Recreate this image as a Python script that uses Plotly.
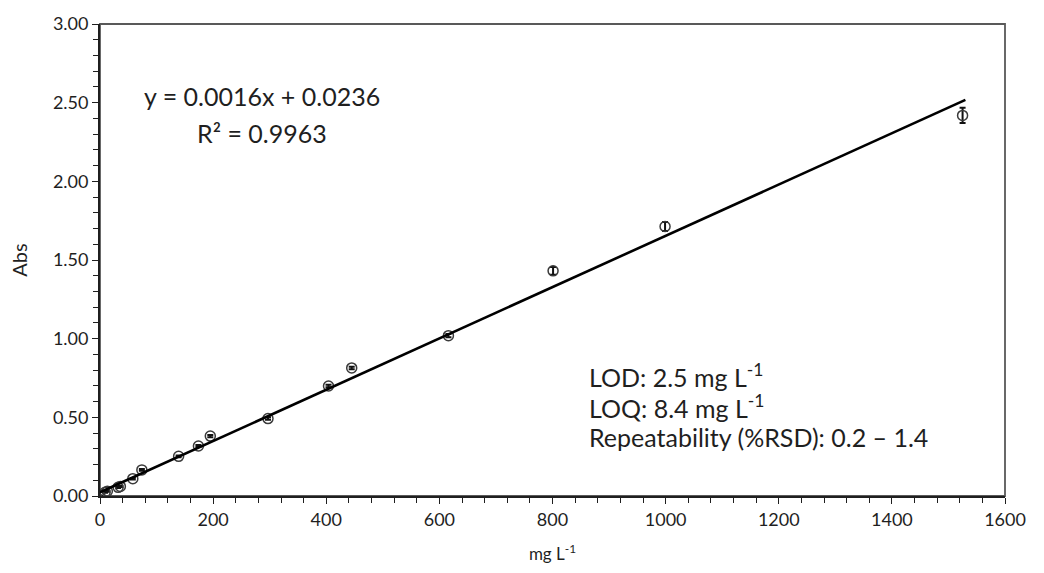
import plotly.graph_objects as go

# Calibration standards (mg L-1) and mean absorbance with standard deviation
conc = [0, 9, 13, 32, 36, 58, 74, 139, 174, 195, 297, 404, 445, 616, 801, 999, 1525]
absorb = [0.000, 0.024, 0.030, 0.055, 0.061, 0.110, 0.166, 0.252, 0.318, 0.381,
          0.492, 0.699, 0.814, 1.019, 1.431, 1.713, 2.419]
abs_sd = [0.003, 0.003, 0.003, 0.004, 0.004, 0.005, 0.005, 0.006, 0.006, 0.007,
          0.008, 0.008, 0.008, 0.010, 0.025, 0.028, 0.048]

# Linear trendline
SLOPE = 0.00163
INTERCEPT = 0.0236
R2 = 0.9963
fit_x = [0, 1530]
fit_y = [SLOPE * v + INTERCEPT for v in fit_x]

FONT = "Lato, 'Open Sans', sans-serif"
TXT = "#1f1f1f"

fig = go.Figure()

fig.add_trace(go.Scatter(
    x=conc, y=absorb, mode="markers",
    marker=dict(symbol="circle-open", size=10, color="#3a3a3a", line=dict(width=1.5)),
    error_y=dict(type="data", array=abs_sd, visible=True, color="#111111",
                 thickness=2, width=3),
    showlegend=False,
))

fig.add_trace(go.Scatter(
    x=fit_x, y=fit_y, mode="lines",
    line=dict(color="#000000", width=2.6),
    showlegend=False,
))

annotations = [
    dict(x=287, y=2.54, text=f"y = {SLOPE:.4f}x + {INTERCEPT:.4f}",
         xanchor="center", yanchor="middle", font=dict(size=25)),
    dict(x=287, y=2.31, text=f"R² = {R2:.4f}",
         xanchor="center", yanchor="middle", font=dict(size=25)),
    dict(x=861, y=0.765, text="LOD: 2.5 mg L<sup>-1</sup>",
         xanchor="left", yanchor="middle", font=dict(size=25)),
    dict(x=861, y=0.570, text="LOQ: 8.4 mg L<sup>-1</sup>",
         xanchor="left", yanchor="middle", font=dict(size=25)),
    dict(x=861, y=0.372, text="Repeatability (%RSD): 0.2 – 1.4",
         xanchor="left", yanchor="middle", font=dict(size=25)),
]
for a in annotations:
    a.update(xref="x", yref="y", showarrow=False)
    a["font"].update(family=FONT, color=TXT)

fig.update_layout(
    width=1044, height=573,
    margin=dict(l=100, r=39, t=17, b=77),
    paper_bgcolor="white", plot_bgcolor="white",
    font=dict(family=FONT, color=TXT, size=18),
    annotations=annotations,
    shapes=[dict(type="rect", xref="paper", yref="paper", x0=0, y0=0, x1=1, y1=1,
                 line=dict(color="#595959", width=1.8), layer="below")],
)

fig.update_xaxes(
    range=[0, 1600], dtick=200, tick0=0,
    showgrid=False, zeroline=False,
    showline=True, linecolor="#1f1f1f", linewidth=1.8,
    ticks="outside", ticklen=6, tickwidth=1.3, tickcolor="#1f1f1f",
    minor=dict(dtick=40, ticks="outside", ticklen=5, tickwidth=1.1, tickcolor="#1f1f1f"),
    tickfont=dict(size=18, color=TXT),
    title=dict(text="mg L<sup>-1</sup>", font=dict(size=17, color=TXT), standoff=20),
)
fig.update_yaxes(
    range=[0, 3], dtick=0.5, tick0=0, tickformat=".2f",
    showgrid=False, zeroline=False,
    showline=True, linecolor="#1f1f1f", linewidth=1.8,
    ticks="outside", ticklen=6, tickwidth=1.3, tickcolor="#1f1f1f",
    minor=dict(dtick=0.1, ticks="outside", ticklen=5, tickwidth=1.1, tickcolor="#1f1f1f"),
    tickfont=dict(size=18, color=TXT),
    title=dict(text="Abs", font=dict(size=20, color=TXT), standoff=20),
)

fig.write_html("out.html")
